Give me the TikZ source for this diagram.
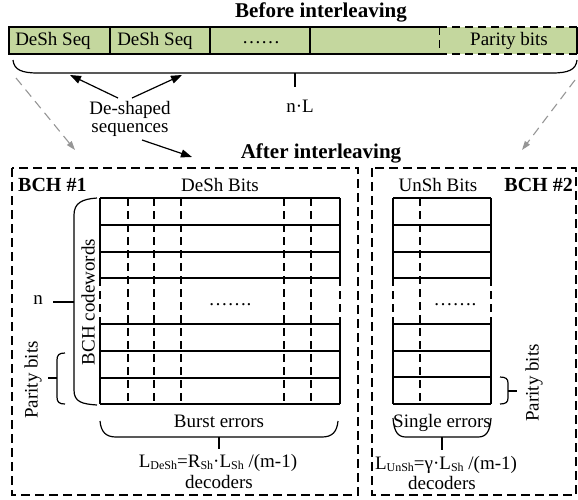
\documentclass[tikz,border=0pt]{standalone}
\usepackage{fontspec}
\setmainfont{Liberation Serif}
\usetikzlibrary{arrows.meta}
\definecolor{barfill}{RGB}{196,215,158}
\definecolor{arrgray}{RGB}{150,150,150}
\newcommand{\smsub}[1]{\raisebox{-0.25ex}{\fontsize{12}{12}\selectfont #1}}
\tikzset{
  txt/.style={inner sep=0pt, font=\fontsize{19}{21}\selectfont},
  ttl/.style={inner sep=0pt, font=\fontsize{21}{23}\selectfont\bfseries},
  bch/.style={inner sep=0pt, font=\fontsize{20}{22}\selectfont\bfseries},
  ln/.style={line width=1.2pt},
  thk/.style={line width=2pt},
  dsh/.style={line width=1.2pt, dash pattern=on 8pt off 5pt},
  boxd/.style={line width=1.2pt, dash pattern=on 9pt off 5pt},
  brace/.style={line width=1.2pt},
  blk/.style={line width=1.2pt, -{Triangle[length=11pt,width=8pt]}},
  gry/.style={line width=1.1pt, arrgray, dash pattern=on 9pt off 6pt, -{Triangle[length=9pt,width=6pt]}},
}
\begin{document}
\begin{tikzpicture}[x=1pt,y=-1pt]
\useasboundingbox (0,0) rectangle (578,499);

% ---------- before interleaving ----------
\node[ttl] (before) at (321,12) {Before interleaving};
\fill[barfill] (9,27) rectangle (577,54);
\draw[ln] (439,27) -- (9,27) -- (9,54) -- (439,54);
\draw[ln] (577,27) -- (577,54);
\draw[dsh] (439,27) -- (577,27);
\draw[dsh] (439,54) -- (577,54);
\draw[ln] (110,27) -- (110,54);
\draw[ln] (210,27) -- (210,54);
\draw[ln] (310,27) -- (310,54);
\draw[line width=1pt, dash pattern=on 8pt off 5pt] (439,27) -- (439,54);
\node[txt] (seq1) at (53,41) {DeSh Seq};
\node[txt] (seq2) at (155,41) {DeSh Seq};
\node[txt] (dots1) at (261,43) {……};
\node[txt] (par0) at (509,41) {Parity bits};

% brace n L
\draw[brace] (13,60) .. controls (14,70) and (22,73) .. (38,73) -- (552,73) .. controls (568,73) and (576,70) .. (577,60);
\coordinate (nlt) at (295,73);
\coordinate (nlb) at (295,87);
\draw[brace] (nlt) -- (nlb);
\node[txt] (nl) at (300,106) {n·L};

% De-shaped sequences
\node[txt, align=center] (desh) at (130,119) {De-shaped\\[-3pt]sequences};
\coordinate (a1s) at (118,98);
\coordinate (a1e) at (70,75);
\coordinate (a2s) at (132,98);
\coordinate (a2e) at (182,75);
\coordinate (a3s) at (142,140);
\coordinate (a3e) at (192,157);
\draw[blk] (a1s) -- (a1e);
\draw[blk] (a2s) -- (a2e);
\draw[blk] (a3s) -- (a3e);

% gray arrows
\coordinate (g1s) at (16,78);
\coordinate (g1e) at (75,150);
\coordinate (g2s) at (575,80);
\coordinate (g2e) at (522,150);
\draw[gry] (g1s) -- (g1e);
\draw[gry] (g2s) -- (g2e);

\node[ttl] (after) at (321,153) {After interleaving};

% ---------- boxes ----------
\draw[boxd] (12,168) rectangle (358,495);
\draw[boxd] (372,168) rectangle (576,495);
\node[bch, anchor=west] (bch1) at (18,185) {BCH \#1};
\node[bch, anchor=east] (bch2) at (573,185) {BCH \#2};
\node[txt] (deshbits) at (220,185) {DeSh Bits};
\node[txt] (unshbits) at (438,185) {UnSh Bits};

% ---------- left grid ----------
\foreach \x in {128,154,181,284,311} \draw[dsh] (\x,198) -- (\x,404);
\foreach \x in {100,340} {
  \draw[ln] (\x,198) -- (\x,278);
  \draw[ln] (\x,324) -- (\x,404);
  \draw[dsh] (\x,278) -- (\x,324);
}
\draw[ln] (100,198) -- (340,198);
\draw[thk] (100,225) -- (340,225);
\draw[thk] (100,252) -- (340,252);
\draw[ln] (100,278) -- (340,278);
\draw[ln] (100,324) -- (340,324);
\draw[thk] (100,351) -- (340,351);
\draw[ln] (100,378) -- (340,378);
\draw[line width=1.6pt] (100,404) -- (340,404);
\node[txt] (dots2) at (230,305) {…….};

% ---------- right grid ----------
\draw[dsh] (420,198) -- (420,404);
\foreach \x in {393,491} {
  \draw[ln] (\x,198) -- (\x,278);
  \draw[ln] (\x,324) -- (\x,404);
  \draw[dsh] (\x,278) -- (\x,324);
}
\draw[ln] (393,198) -- (491,198);
\draw[thk] (393,225) -- (491,225);
\draw[thk] (393,252) -- (491,252);
\draw[ln] (393,278) -- (491,278);
\draw[ln] (393,324) -- (491,324);
\draw[thk] (393,351) -- (491,351);
\draw[ln] (393,377) -- (491,377);
\draw[line width=1.6pt] (393,404) -- (491,404);
\node[txt] (dots3) at (455,305) {…….};

% ---------- BCH codewords brace ----------
\draw[brace] (97,198) .. controls (82,199) and (74,203) .. (74,215) -- (74,390) .. controls (74,402) and (82,404) .. (97,405);
\coordinate (nt) at (74,302);
\coordinate (nb) at (53,302);
\draw[brace] (nt) -- (nb);
\node[txt] (nlab) at (38,300) {n};
\node[txt, rotate=90] (bchcw) at (88,302) {BCH codewords};

% left parity brace
\draw[brace] (65,353) .. controls (59,353) and (57,355) .. (57,360) -- (57,397) .. controls (57,402) and (59,404) .. (65,404);
\coordinate (pt) at (57,378);
\coordinate (pb) at (48,378);
\draw[brace] (pt) -- (pb);
\node[txt, rotate=90] (par1) at (33,380) {Parity bits};

% right parity brace
\draw[brace] (500,377) .. controls (506,377) and (508,379) .. (508,383) -- (508,398) .. controls (508,402) and (506,404) .. (500,404);
\coordinate (qt) at (508,391);
\coordinate (qb) at (517,391);
\draw[brace] (qt) -- (qb);
\node[txt, rotate=90] (par2) at (534,383) {Parity bits};

% ---------- bottom braces ----------
\draw[brace] (100,421) .. controls (101,432) and (106,437) .. (116,437) -- (322,437) .. controls (332,437) and (337,432) .. (338,421);
\coordinate (bt) at (219,437);
\coordinate (bb) at (219,449);
\draw[brace] (bt) -- (bb);
\node[txt] (burst) at (219,421) {Burst errors};
\node[txt] (ldesh) at (218,463) {L\smsub{DeSh}=R\smsub{Sh}·L\smsub{Sh} /(m-1)};
\node[txt] (dec1) at (219,482) {decoders};

\draw[brace] (393,418) .. controls (394,432) and (398,437) .. (406,437) -- (478,437) .. controls (486,437) and (490,432) .. (491,418);
\coordinate (st) at (442,437);
\coordinate (sb) at (442,450);
\draw[brace] (st) -- (sb);
\node[txt] (single) at (442,423) {Single errors};
\node[txt] (lunsh) at (446,465) {L\smsub{UnSh}=γ·L\smsub{Sh} /(m-1)};
\node[txt] (dec2) at (442,483) {decoders};
\end{tikzpicture}
\end{document}
